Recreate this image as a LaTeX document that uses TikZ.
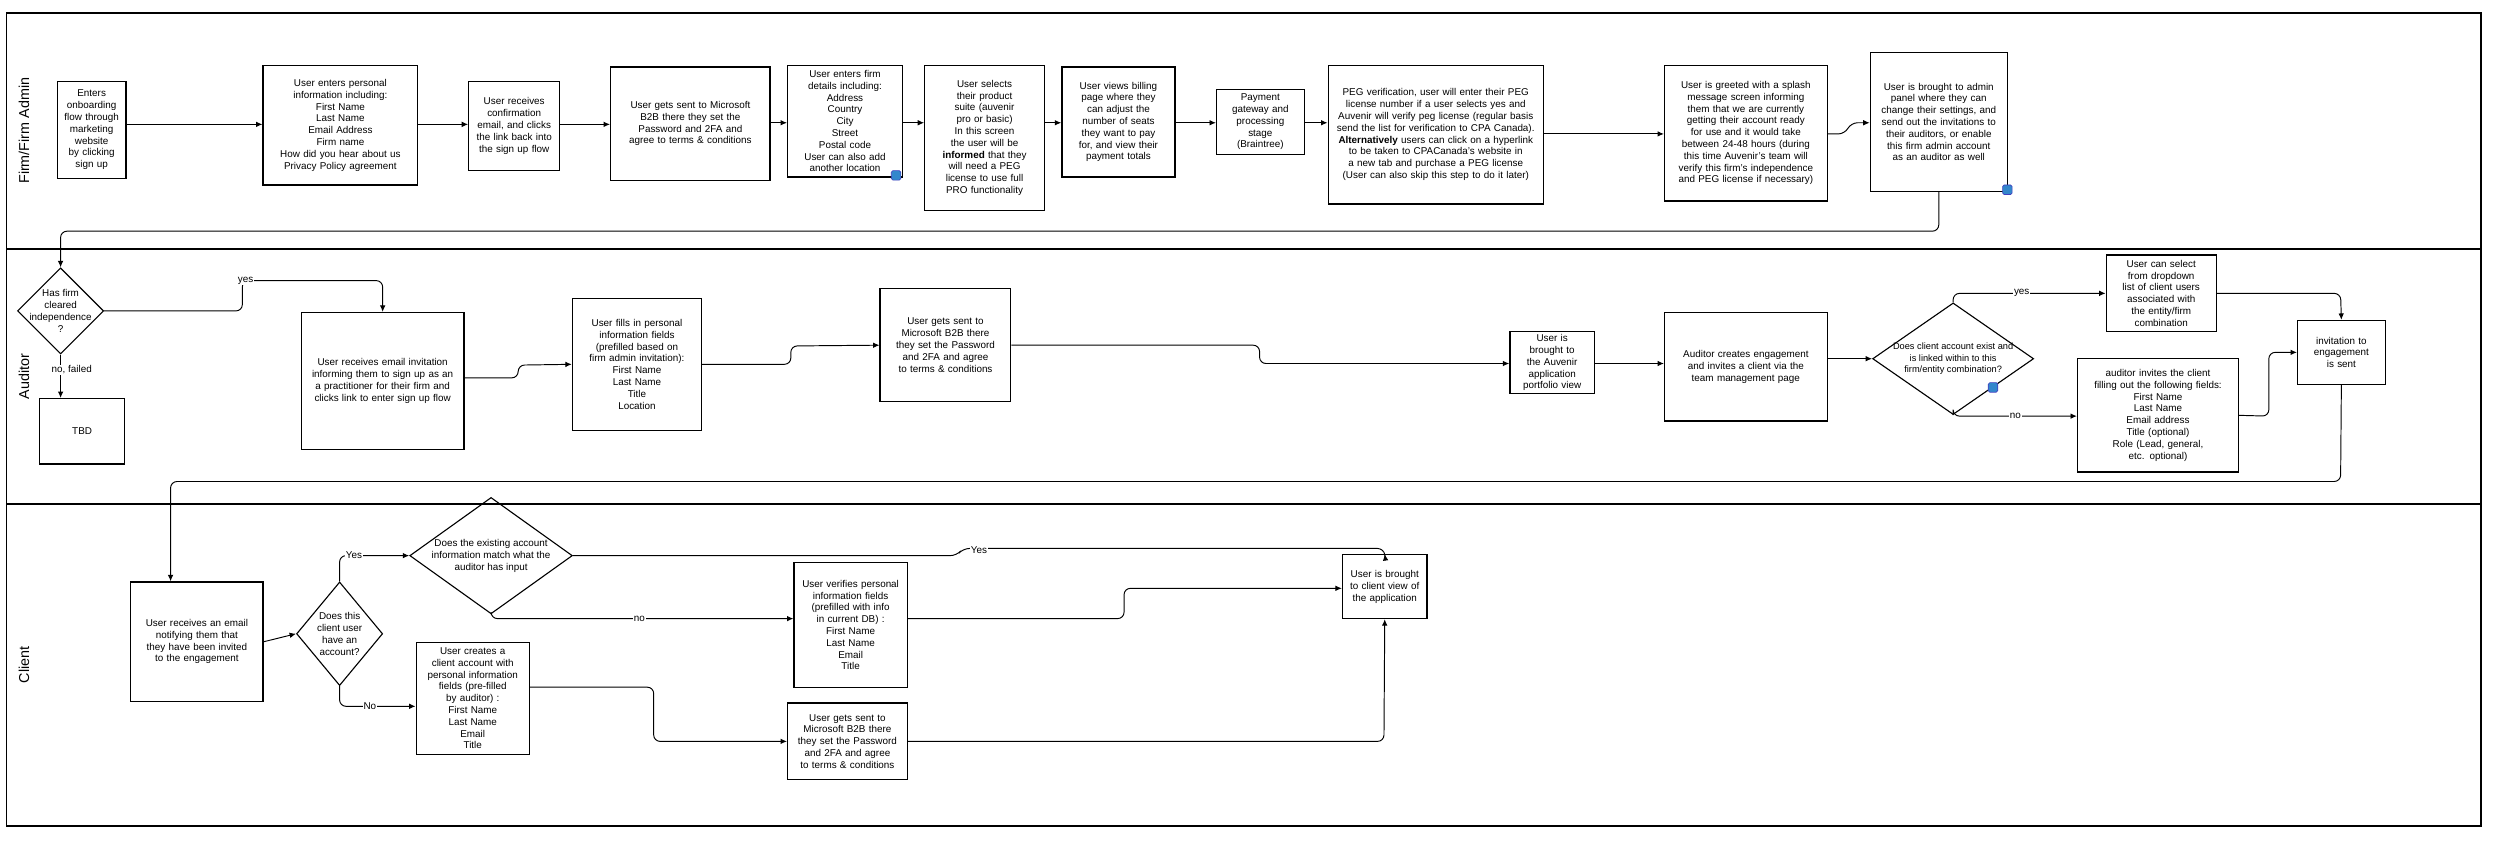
\documentclass[tikz,border=0pt]{standalone}
\usepackage{fontspec}
\setmainfont{Liberation Sans}
\usetikzlibrary{shapes.geometric,arrows.meta}
\hyphenpenalty=10000 \exhyphenpenalty=10000
\begin{document}
\begin{tikzpicture}[x=1pt,y=-1pt,
  box/.style={draw,line width=0.8pt,align=center,inner sep=1pt,font=\fontsize{6.2}{7.4}\selectfont},
  dia/.style={draw,line width=0.7pt,diamond,inner sep=-6pt,align=center,font=\fontsize{6.2}{7.4}\selectfont},
  ar/.style={-{Latex[length=4pt,width=3.5pt]},line width=0.6pt,rounded corners=4pt},
  lbl/.style={fill=white,inner sep=0.5pt,font=\fontsize{6.2}{7.4}\selectfont},
  lane/.style={font=\fontsize{9}{10}\selectfont,rotate=90},
  cmt/.style={fill=blue!45!cyan!60!gray,draw=blue!50!gray,minimum size=6pt,inner sep=0pt,rounded corners=1pt}]
\useasboundingbox (0,0) rectangle (1568,529);
% lanes
\draw[line width=1pt] (4,8) rectangle (1556,518);
\draw[line width=1pt] (4,156) -- (1556,156);
\draw[line width=1pt] (4,316) -- (1556,316);
\node[lane] (L1) at (15,82) {Firm/Firm Admin};
\node[lane] (L2) at (15,236) {Auditor};
\node[lane] (L3) at (15,417) {Client};
% lane 1
\node[box,minimum width=43,minimum height=61,text width=39] (n1) at (57.5,81.5) {Enters onboarding flow through marketing website by clicking sign up};
\node[box,minimum width=97,minimum height=75,text width=80] (n2) at (213.5,78.5) {User enters personal information including:\\First Name\\Last Name\\Email Address\\Firm name\\How did you hear about us\\Privacy Policy agreement};
\node[box,minimum width=57,minimum height=56,text width=50] (n3) at (322.5,79) {User receives confirmation email, and clicks the link back into the sign up flow};
\node[box,minimum width=100,minimum height=71,text width=80] (n4) at (433,77.5) {User gets sent to Microsoft B2B there they set the Password and 2FA and agree to terms \& conditions};
\node[box,minimum width=72,minimum height=70,text width=62] (n5) at (530,76) {User enters firm details including:\\Address\\Country\\City\\Street\\Postal code\\User can also add another location};
\node[box,minimum width=75,minimum height=91,text width=58] (n6) at (617.5,86.5) {User selects their product suite (auvenir pro or basic)\\In this screen the user will be \textbf{informed} that they will need a PEG license to use full PRO functionality};
\node[box,minimum width=71,minimum height=69,text width=58] (n7) at (701.5,76.5) {User views billing page where they can adjust the number of seats they want to pay for, and view their payment totals};
\node[box,minimum width=55,minimum height=41,text width=40] (n8) at (790.5,76.5) {Payment gateway and processing stage\\(Braintree)};
\node[box,minimum width=135,minimum height=87,text width=124] (n9) at (900.5,84.5) {PEG verification, user will enter their PEG license number if a user selects yes and Auvenir will verify peg license (regular basis send the list for verification to CPA Canada).\\\textbf{Alternatively} users can click on a hyperlink to be taken to CPACanada's website in a new tab and purchase a PEG license\\(User can also skip this step to do it later)};
\node[box,minimum width=102,minimum height=85,text width=86] (n10) at (1095,83.5) {User is greeted with a splash message screen informing them that we are currently getting their account ready for use and it would take between 24-48 hours (during this time Auvenir's team will verify this firm's independence and PEG license if necessary)};
\node[box,minimum width=86,minimum height=87,text width=74] (n11) at (1216,76.5) {User is brought to admin panel where they can change their settings, and send out the invitations to their auditors, or enable this firm admin account as an auditor as well};
\node[cmt] (c1) at (562,110) {};
\node[cmt] (c2) at (1259,119) {};
\draw[ar] (n1.east |- 0,78) -- (n2.west |- 0,78);
\draw[ar] (n2.east |- 0,78) -- (n3.west |- 0,78);
\draw[ar] (n3.east |- 0,78) -- (n4.west |- 0,78);
\draw[ar] (n4.east |- 0,77) -- (n5.west |- 0,77);
\draw[ar] (n5.east |- 0,77) -- (n6.west |- 0,77);
\draw[ar] (n6.east |- 0,77) -- (n7.west |- 0,77);
\draw[ar] (n7.east |- 0,77) -- (n8.west |- 0,77);
\draw[ar] (n8.east |- 0,77) -- (n9.west |- 0,77);
\draw[ar] (n9.east |- 0,84) -- (n10.west |- 0,84);
\draw[ar] (n10.east |- 0,84) -- (1157,84) -- (1161,77) -- (n11.west |- 0,77);
% lane 2
\node[dia,minimum width=54,minimum height=54] (d1) at (38,195) {Has firm\\cleared\\independence\\?};
\node[box,minimum width=53,minimum height=41] (tbd) at (51.5,270.5) {TBD};
\node[box,minimum width=102,minimum height=86,text width=94] (n13) at (240,239) {User receives email invitation informing them to sign up as an a practitioner for their firm and clicks link to enter sign up flow};
\node[box,minimum width=81,minimum height=83,text width=68] (n14) at (399.5,228.5) {User fills in personal information fields (prefilled based on firm admin invitation):\\First Name\\Last Name\\Title\\Location};
\node[box,minimum width=82,minimum height=71,text width=66] (n15) at (593,216.5) {User gets sent to Microsoft B2B there they set the Password and 2FA and agree to terms \& conditions};
\node[box,minimum width=53,minimum height=39,text width=42] (n16) at (973.5,227.5) {User is brought to the Auvenir application portfolio view};
\node[box,minimum width=102,minimum height=68,text width=86] (n17) at (1095,230) {Auditor creates engagement and invites a client via the team management page};
\node[dia,minimum width=101,minimum height=70,inner sep=-14pt,font=\fontsize{5.8}{7}\selectfont] (d2) at (1225,225) {Does client account exist and\\is linked within to this\\firm/entity combination?};
\node[cmt] (c3) at (1250,243) {};
\node[box,minimum width=69,minimum height=48,text width=56] (n18) at (1355.5,184) {User can select from dropdown list of client users associated with the entity/firm combination};
\node[box,minimum width=101,minimum height=71,text width=86] (n19) at (1353.5,260.5) {auditor invites the client filling out the following fields:\\First Name\\Last Name\\Email address\\Title (optional)\\Role (Lead, general, etc. optional)};
\node[box,minimum width=55,minimum height=40,text width=46] (n20) at (1468.5,221) {invitation to engagement is sent};
\draw[ar] (n11.south) -- (1216,145) -- (38,145) -- (d1.north);
\draw[ar] (d1.east) -- (152,195) -- (152,176) -- (240,176) -- (n13.north);
\node[lbl] (ly1) at (154,176) {yes};
\draw[ar] (d1.south) -- (tbd.north -| d1.south);
\node[lbl] (ln1) at (45,232) {no, failed};
\draw[ar] (n13.east |- 0,237) -- (325,237) -- (325,229) -- (n14.west);
\draw[ar] (n14.east) -- (496,228.5) -- (496,217) -- (n15.west);
\draw[ar] (n15.east) -- (790,216.5) -- (790,228) -- (n16.west |- 0,228);
\draw[ar] (n16.east |- 0,228) -- (n17.west |- 0,228);
\draw[ar] (n17.east |- 0,225) -- (d2.west);
\draw[ar] (d2.north) -- (1225,184) -- (n18.west);
\node[lbl] (ly2) at (1268,184) {yes};
\draw[ar] (d2.south) -- (1225,261) -- (n19.west |- 0,261);
\node[lbl] (ln2) at (1264,261) {no};
\draw[ar] (n18.east) -- (1468,184) -- (n20.north);
\draw[ar] (n19.east) -- (1423,261) -- (1423,221) -- (n20.west);
% lane 3
\node[box,minimum width=83,minimum height=75,text width=80] (n21) at (123.5,402.5) {User receives an email notifying them that they have been invited to the engagement};
\node[dia,minimum width=54,minimum height=65,inner sep=-7pt] (d3) at (213,397.5) {Does this\\client user\\have an\\account?};
\node[dia,minimum width=102,minimum height=73,inner sep=-14pt] (d4) at (308,348.5) {Does the existing account\\information match what the\\auditor has input};
\node[box,minimum width=71,minimum height=78,text width=62] (n22) at (533.5,392) {User verifies personal information fields (prefilled with info in current DB) :\\First Name\\Last Name\\Email\\Title};
\node[box,minimum width=71,minimum height=70,text width=60] (n23) at (296.5,438) {User creates a client account with personal information fields (pre-filled by auditor) :\\First Name\\Last Name\\Email\\Title};
\node[box,minimum width=75,minimum height=48,text width=64] (n24) at (531.5,465) {User gets sent to Microsoft B2B there they set the Password and 2FA and agree to terms \& conditions};
\node[box,minimum width=53,minimum height=40,text width=44] (n25) at (868.5,368) {User is brought to client view of the application};
\draw[ar] (n20.south) -- (1468,302) -- (107,302) -- (n21.north -| 107,0);
\draw[ar] (n21.east) -- (d3.west);
\draw[ar] (d3.north) -- (213,348.5) -- (d4.west);
\node[lbl] (ly3) at (222,348.5) {Yes};
\draw[ar] (d4.east) -- (600,348.5) -- (604,344) -- (868,344) -- (n25.north);
\node[lbl] (ly4) at (614,345) {Yes};
\draw[ar] (d3.south) -- (213,443) -- (n23.west |- 0,443);
\node[lbl] (lno3) at (232,443) {No};
\draw[ar] (d4.south) -- (308,388) -- (n22.west |- 0,388);
\node[lbl] (ln4) at (401,388) {no};
\draw[ar] (n22.east |- 0,388) -- (705,388) -- (705,369) -- (n25.west |- 0,369);
\draw[ar] (n23.east |- 0,431) -- (410,431) -- (410,465) -- (n24.west);
\draw[ar] (n24.east) -- (868,465) -- (n25.south);
\end{tikzpicture}
\end{document}
